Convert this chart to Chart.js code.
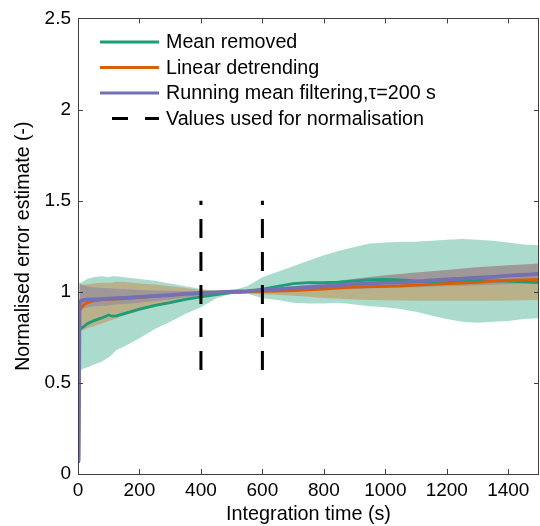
<!DOCTYPE html>
<html>
<head>
<meta charset="utf-8">
<script src="https://cdn.jsdelivr.net/npm/chart.js@4.4.1/dist/chart.umd.min.js"></script>
<style>
  html, body { margin: 0; padding: 0; background: #ffffff; }
  #wrap { width: 540px; height: 526px; }
</style>
</head>
<body>
<div id="wrap"><canvas id="c" width="540" height="526"></canvas></div>
<script>
// ---- data ----
const timeS = [2, 5, 10, 20, 30, 50, 75, 100, 110, 125, 150, 200, 250, 300, 350, 400, 450, 500, 550, 600, 650, 700, 750, 800, 850, 900, 950, 1000, 1050, 1100, 1150, 1200, 1250, 1300, 1350, 1400, 1450, 1500];

const meanRemoved = [0.06, 0.79, 0.80, 0.81, 0.825, 0.84, 0.855, 0.873, 0.866, 0.868, 0.88, 0.905, 0.925, 0.94, 0.958, 0.972, 0.985, 0.995, 1.0, 1.015, 1.03, 1.045, 1.05, 1.05, 1.053, 1.06, 1.066, 1.068, 1.065, 1.06, 1.052, 1.05, 1.058, 1.062, 1.06, 1.058, 1.055, 1.05];
const meanRemovedUpper = [0.08, 1.05, 1.05, 1.06, 1.07, 1.08, 1.085, 1.08, 1.085, 1.085, 1.08, 1.07, 1.06, 1.045, 1.03, 1.015, 1.005, 1.005, 1.03, 1.08, 1.11, 1.14, 1.17, 1.2, 1.225, 1.245, 1.265, 1.27, 1.275, 1.275, 1.28, 1.285, 1.29, 1.285, 1.28, 1.27, 1.26, 1.255];
const meanRemovedLower = [0.06, 0.56, 0.57, 0.58, 0.585, 0.6, 0.615, 0.64, 0.655, 0.68, 0.7, 0.745, 0.795, 0.835, 0.88, 0.915, 0.965, 0.99, 0.99, 0.965, 0.955, 0.94, 0.935, 0.935, 0.94, 0.93, 0.92, 0.915, 0.905, 0.89, 0.87, 0.85, 0.835, 0.83, 0.835, 0.84, 0.85, 0.855];

const linearDetrend = [0.08, 0.89, 0.91, 0.93, 0.94, 0.95, 0.955, 0.958, 0.96, 0.96, 0.962, 0.968, 0.975, 0.982, 0.99, 0.995, 0.998, 1.0, 1.0, 1.002, 1.004, 1.006, 1.01, 1.015, 1.022, 1.025, 1.028, 1.03, 1.032, 1.036, 1.04, 1.045, 1.048, 1.052, 1.058, 1.062, 1.065, 1.068];
const linearDetrendUpper = [0.08, 1.05, 1.04, 1.04, 1.04, 1.045, 1.05, 1.05, 1.05, 1.055, 1.055, 1.045, 1.04, 1.03, 1.02, 1.01, 1.005, 1.003, 1.005, 1.01, 1.015, 1.025, 1.035, 1.045, 1.06, 1.07, 1.08, 1.09, 1.098, 1.105, 1.112, 1.12, 1.128, 1.135, 1.14, 1.145, 1.15, 1.155];
const linearDetrendLower = [0.08, 0.78, 0.785, 0.79, 0.8, 0.81, 0.825, 0.84, 0.845, 0.855, 0.87, 0.895, 0.915, 0.935, 0.955, 0.97, 0.982, 0.99, 0.99, 0.987, 0.983, 0.978, 0.972, 0.966, 0.962, 0.958, 0.955, 0.953, 0.952, 0.951, 0.95, 0.95, 0.95, 0.95, 0.951, 0.952, 0.953, 0.955];

const runningMean = [0.07, 0.945, 0.95, 0.955, 0.957, 0.958, 0.96, 0.962, 0.963, 0.965, 0.967, 0.972, 0.977, 0.982, 0.988, 0.993, 0.997, 1.0, 1.004, 1.01, 1.015, 1.02, 1.025, 1.03, 1.037, 1.042, 1.046, 1.05, 1.052, 1.056, 1.062, 1.068, 1.072, 1.077, 1.082, 1.088, 1.093, 1.098];
const runningMeanUpper = [0.07, 1.05, 1.04, 1.035, 1.03, 1.025, 1.02, 1.02, 1.018, 1.016, 1.015, 1.01, 1.007, 1.005, 1.003, 1.002, 1.002, 1.003, 1.008, 1.015, 1.022, 1.03, 1.04, 1.05, 1.062, 1.072, 1.082, 1.09, 1.098, 1.105, 1.112, 1.12, 1.127, 1.134, 1.14, 1.145, 1.15, 1.155];
const runningMeanLower = [0.07, 0.85, 0.9, 0.91, 0.915, 0.92, 0.922, 0.925, 0.927, 0.93, 0.933, 0.94, 0.948, 0.958, 0.97, 0.98, 0.99, 0.995, 0.998, 1.0, 1.002, 1.005, 1.008, 1.01, 1.012, 1.015, 1.018, 1.02, 1.022, 1.025, 1.028, 1.03, 1.033, 1.036, 1.039, 1.042, 1.045, 1.048];

const normTimes = [400, 600];
const normRange = [0.57, 1.5];

const xTicks = [0, 200, 400, 600, 800, 1000, 1200, 1400];
const yTicks = [0, 0.5, 1, 1.5, 2, 2.5];

const seriesNames = ['Mean removed', 'Linear detrending', 'Running mean filtering,\u03c4=200 s', 'Values used for normalisation'];

// ---- styling ----
const FONT = "'Liberation Sans', Arial, Helvetica, sans-serif";
const COL = { green: '#1b9e77', orange: '#d95f02', purple: '#7570b3' };
const BAND = { green: 'rgba(27,158,119,0.37)', orange: 'rgba(217,95,2,0.33)', purple: 'rgba(117,112,179,0.38)' };

const pts = arr => timeS.map((t, i) => ({ x: t, y: arr[i] }));
function bandPair(lower, upper, color, order) {
  return [
    { data: pts(lower), borderWidth: 0, pointRadius: 0, fill: false, order: order, backgroundColor: color },
    { data: pts(upper), borderWidth: 0, pointRadius: 0, fill: '-1', order: order, backgroundColor: color }
  ];
}
function meanLine(arr, color, width, order) {
  return { data: pts(arr), borderColor: color, borderWidth: width, pointRadius: 0, fill: false, order: order };
}
const normSets = normTimes.map(t => ({
  data: [{ x: t, y: normRange[0] }, { x: t, y: normRange[1] }],
  borderColor: '#000', borderWidth: 3, borderDash: [19, 14], pointRadius: 0, fill: false, order: 0
}));

const datasets = [
  ...bandPair(meanRemovedLower, meanRemovedUpper, BAND.green, 9),
  ...bandPair(linearDetrendLower, linearDetrendUpper, BAND.orange, 8),
  ...bandPair(runningMeanLower, runningMeanUpper, BAND.purple, 7),
  meanLine(meanRemoved, COL.green, 2.8, 3),
  meanLine(linearDetrend, COL.orange, 2.8, 2),
  meanLine(runningMean, COL.purple, 3.8, 1),
  ...normSets
];

const boxPlugin = {
  id: 'boxAndLegend',
  afterDraw(chart) {
    const ctx = chart.ctx;
    const a = chart.chartArea;
    const xs = chart.scales.x, ys = chart.scales.y;
    ctx.save();
    // frame
    ctx.strokeStyle = '#404040';
    ctx.lineWidth = 1;
    ctx.beginPath();
    ctx.rect(Math.round(a.left) + 0.5, Math.round(a.top) + 0.5, Math.round(a.right - a.left) - 1, Math.round(a.bottom - a.top));
    ctx.stroke();
    // inward ticks
    const tl = 5;
    ctx.beginPath();
    xTicks.forEach(v => {
      const px = Math.round(xs.getPixelForValue(v)) + 0.5;
      ctx.moveTo(px, a.bottom); ctx.lineTo(px, a.bottom - tl);
      ctx.moveTo(px, a.top); ctx.lineTo(px, a.top + tl);
    });
    yTicks.forEach(v => {
      const py = Math.round(ys.getPixelForValue(v)) + 0.5;
      ctx.moveTo(a.left, py); ctx.lineTo(a.left + tl, py);
      ctx.moveTo(a.right, py); ctx.lineTo(a.right - tl, py);
    });
    ctx.stroke();
    // legend
    const colors = [COL.green, COL.orange, COL.purple];
    const rowY = [42, 67.5, 93, 118.5];
    ctx.font = '19.7px ' + FONT;
    ctx.fillStyle = '#000';
    ctx.textBaseline = 'middle';
    ctx.textAlign = 'left';
    for (let i = 0; i < 4; i++) {
      ctx.beginPath();
      if (i < 3) {
        ctx.strokeStyle = colors[i];
        ctx.lineWidth = 3;
        ctx.setLineDash([]);
        ctx.moveTo(100, rowY[i]); ctx.lineTo(159, rowY[i]);
      } else {
        ctx.strokeStyle = '#000';
        ctx.lineWidth = 3;
        ctx.setLineDash([16, 17]);
        ctx.moveTo(112, rowY[i]); ctx.lineTo(159, rowY[i]);
      }
      ctx.stroke();
      ctx.setLineDash([]);
      ctx.fillText(seriesNames[i], 166, rowY[i] + 1);
    }
    ctx.restore();
  }
};

new Chart(document.getElementById('c'), {
  type: 'line',
  data: { datasets },
  options: {
    responsive: false,
    animation: false,
    parsing: true,
    normalized: true,
    layout: { padding: { top: 16, right: 1, left: 0, bottom: 0 } },
    elements: { line: { tension: 0 } },
    plugins: { legend: { display: false }, tooltip: { enabled: false }, filler: { propagate: false } },
    scales: {
      x: {
        type: 'linear', min: 0, max: 1500,
        grid: { display: false, drawTicks: false },
        border: { display: false },
        afterBuildTicks: s => { s.ticks = xTicks.map(v => ({ value: v })); },
        afterFit: s => { s.height = 52; },
        ticks: { color: '#000', font: { family: FONT, size: 19 }, padding: 5, maxRotation: 0, callback: v => String(v) },
        title: { display: true, text: 'Integration time (s)', color: '#000', font: { family: FONT, size: 19.8 }, padding: { top: 0, bottom: 0 } }
      },
      y: {
        type: 'linear', min: 0, max: 2.5,
        grid: { display: false, drawTicks: false },
        border: { display: false },
        afterBuildTicks: s => { s.ticks = yTicks.map(v => ({ value: v })); },
        afterFit: s => { s.width = 78; },
        ticks: { color: '#000', font: { family: FONT, size: 19 }, padding: 7, callback: v => String(v) },
        title: { display: true, text: 'Normalised error estimate (-)', color: '#000', font: { family: FONT, size: 19.5 }, padding: { top: 12, bottom: 0 } }
      }
    }
  },
  plugins: [boxPlugin]
});
</script>
</body>
</html>
